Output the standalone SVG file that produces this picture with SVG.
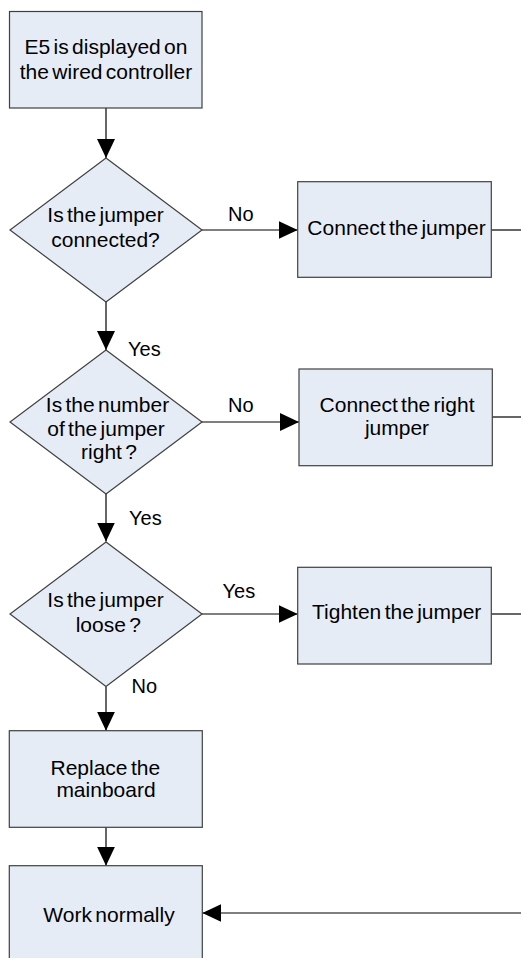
<svg xmlns="http://www.w3.org/2000/svg" width="521" height="958" viewBox="0 0 521 958">
<style>
.node{fill:#E6ECF6;stroke:#404040;stroke-width:1.2}
.t{font-family:"Liberation Sans",Arial,sans-serif;font-size:21px;word-spacing:-2.5px;fill:#000;text-anchor:middle}
.lb{font-family:"Liberation Sans",Arial,sans-serif;font-size:20px;fill:#000}
.c{stroke:#000;stroke-width:1.2;fill:none}
.ca{stroke:#000;stroke-width:1.2;fill:none;marker-end:url(#ah)}
</style>
<defs>
<marker id="ah" markerUnits="userSpaceOnUse" markerWidth="19" markerHeight="18" refX="19" refY="9" orient="auto">
<path d="M0,0 L19,9 L0,18 z" fill="#000"/>
</marker>
</defs>
<rect width="521" height="958" fill="#fff"/>
<g id="connectors">
<line class="ca" x1="106" y1="108" x2="106" y2="158"/>
<line class="ca" x1="202" y1="230" x2="297.7" y2="230"/>
<line class="c" x1="491.3" y1="230" x2="521" y2="230"/>
<line class="ca" x1="106" y1="302" x2="106" y2="350"/>
<line class="ca" x1="202" y1="422" x2="299" y2="422"/>
<line class="c" x1="492.3" y1="417" x2="521" y2="417"/>
<line class="ca" x1="106" y1="494" x2="106" y2="541.5"/>
<line class="ca" x1="202" y1="614" x2="297.7" y2="614"/>
<line class="c" x1="491.3" y1="614" x2="521" y2="614"/>
<line class="ca" x1="106" y1="686.5" x2="106" y2="730.7"/>
<line class="ca" x1="106" y1="827.3" x2="106" y2="865.7"/>
<line class="ca" x1="521" y1="913" x2="202.3" y2="913"/>
<text class="lb" x="228" y="221">No</text>
<text class="lb" x="128" y="356">Yes</text>
<text class="lb" x="228" y="412">No</text>
<text class="lb" x="129" y="525">Yes</text>
<text class="lb" x="222.5" y="598">Yes</text>
<text class="lb" x="131.5" y="693">No</text>
</g>
<g id="start">
<rect class="node" x="9.5" y="11.5" width="192.5" height="96.5"/>
<text class="t" x="106" y="54">E5 is displayed on</text>
<text class="t" x="106" y="79">the wired controller</text>
</g>
<g id="q1">
<polygon class="node" points="106,158 202,230 106,302 10,230"/>
<text class="t" x="105.5" y="221.7">Is the jumper</text>
<text class="t" x="105.5" y="246.7">connected?</text>
</g>
<g id="connect">
<rect class="node" x="297.7" y="181.7" width="193.6" height="95.6"/>
<text class="t" x="396.5" y="235">Connect the jumper</text>
</g>
<g id="q2">
<polygon class="node" points="106,350 202,422 106,494 10,422"/>
<text class="t" x="107.5" y="411.7">Is the number</text>
<text class="t" x="106" y="435.5">of the jumper</text>
<text class="t" x="109" y="459">right ?</text>
</g>
<g id="connectright">
<rect class="node" x="299" y="369" width="193.3" height="96.7"/>
<text class="t" x="397" y="412">Connect the right</text>
<text class="t" x="397" y="435">jumper</text>
</g>
<g id="q3">
<polygon class="node" points="106,542 202,614 106,686.5 10,614"/>
<text class="t" x="105.5" y="606.7">Is the jumper</text>
<text class="t" x="108.3" y="631.7">loose ?</text>
</g>
<g id="tighten">
<rect class="node" x="297.7" y="567.3" width="193.6" height="96.7"/>
<text class="t" x="396.7" y="619.3">Tighten the jumper</text>
</g>
<g id="replace">
<rect class="node" x="9.3" y="730.7" width="193" height="96.6"/>
<text class="t" x="105.3" y="775">Replace the</text>
<text class="t" x="106" y="796.7">mainboard</text>
</g>
<g id="normal">
<rect class="node" x="9.3" y="865.7" width="193" height="100"/>
<text class="t" x="109" y="921.7">Work normally</text>
</g>
</svg>
